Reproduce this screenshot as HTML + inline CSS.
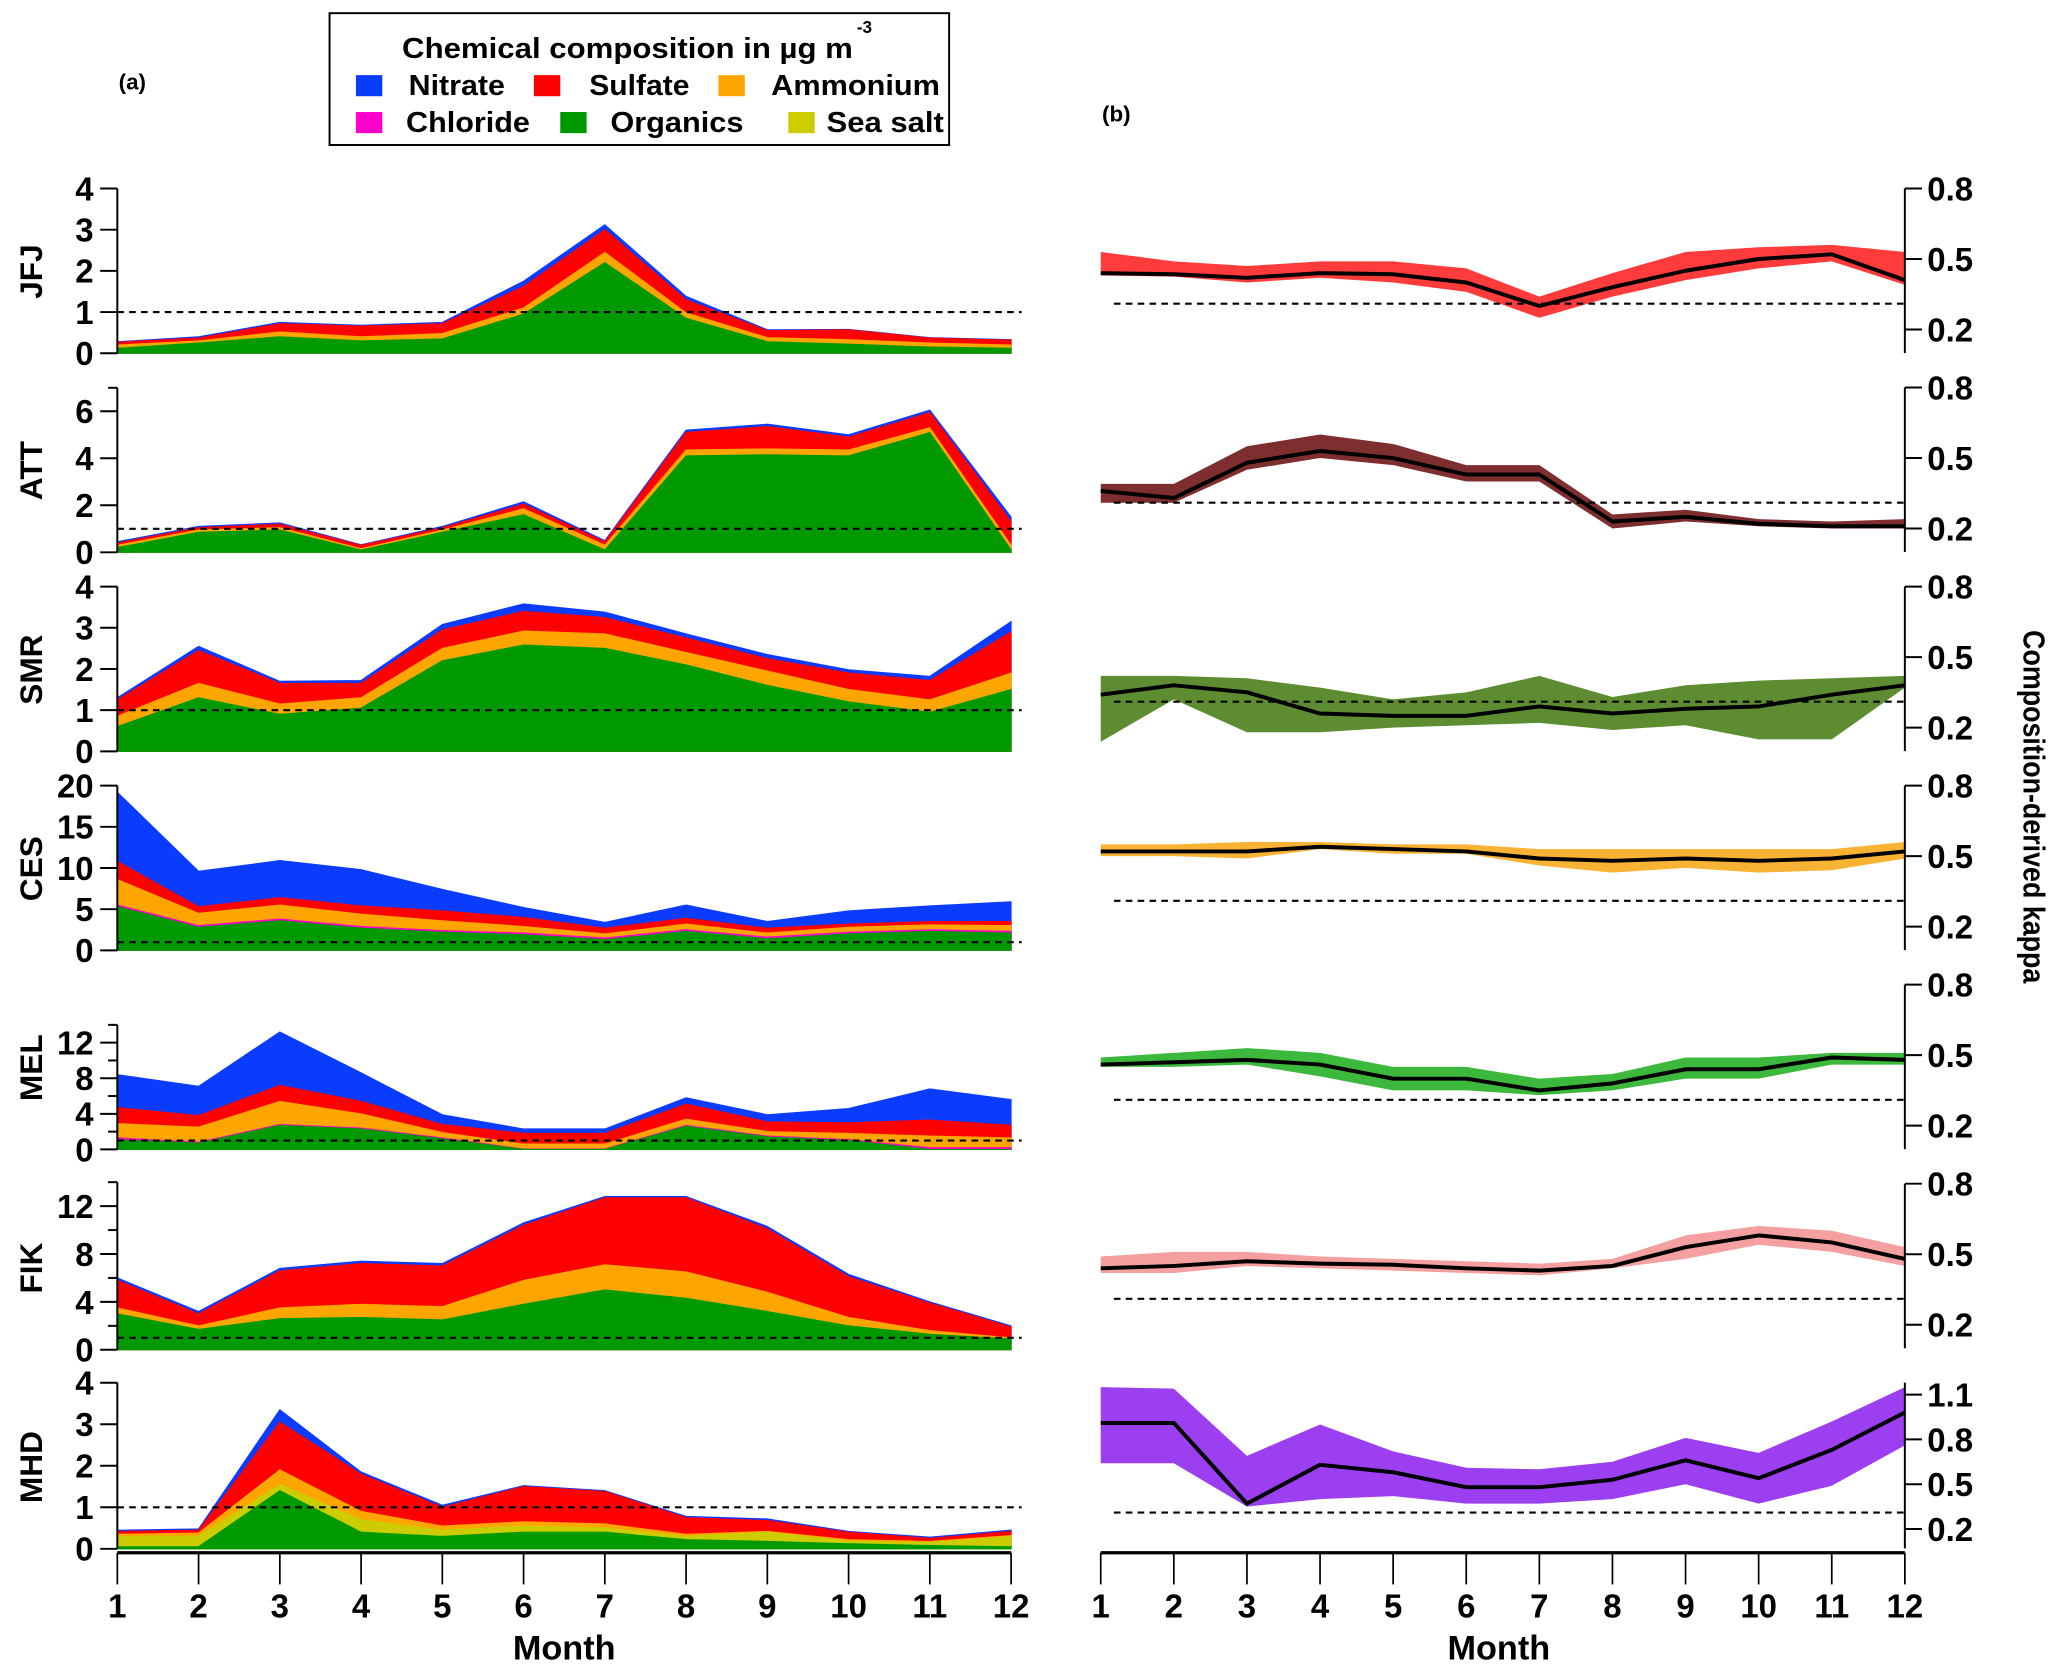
<!DOCTYPE html>
<html><head><meta charset="utf-8"><style>
html,body{margin:0;padding:0;background:#fff}
svg{display:block}
text{font-family:"Liberation Sans Narrow","Liberation Sans",sans-serif;font-weight:bold;fill:#000}
</style></head><body>
<svg id="chart" width="2067" height="1678" viewBox="0 0 1568 1273" preserveAspectRatio="none" xmlns="http://www.w3.org/2000/svg">
<g id="legend">
<rect x="250" y="10" width="470" height="100" fill="#fff" stroke="#000" stroke-width="1.5"/>
<text x="305" y="44" font-size="22" textLength="342" lengthAdjust="spacingAndGlyphs" style="font-family:'Liberation Sans',sans-serif">Chemical composition in µg m</text>
<text x="650" y="25" font-size="13" style="font-family:'Liberation Sans',sans-serif">-3</text>
<rect x="270" y="57" width="20" height="16" fill="#0a3cff"/><text x="310" y="72" font-size="22" textLength="73" lengthAdjust="spacingAndGlyphs" style="font-family:'Liberation Sans',sans-serif">Nitrate</text>
<rect x="405" y="57" width="20" height="16" fill="#ff0000"/><text x="447" y="72" font-size="22" textLength="76" lengthAdjust="spacingAndGlyphs" style="font-family:'Liberation Sans',sans-serif">Sulfate</text>
<rect x="545" y="57" width="20" height="16" fill="#ffa500"/><text x="585" y="72" font-size="22" textLength="128" lengthAdjust="spacingAndGlyphs" style="font-family:'Liberation Sans',sans-serif">Ammonium</text>
<rect x="270" y="85" width="20" height="16" fill="#ff00cc"/><text x="308" y="100" font-size="22" textLength="94" lengthAdjust="spacingAndGlyphs" style="font-family:'Liberation Sans',sans-serif">Chloride</text>
<rect x="425" y="85" width="20" height="16" fill="#009900"/><text x="463" y="100" font-size="22" textLength="101" lengthAdjust="spacingAndGlyphs" style="font-family:'Liberation Sans',sans-serif">Organics</text>
<rect x="598" y="85" width="20" height="16" fill="#cccc00"/><text x="627" y="100" font-size="22" textLength="89" lengthAdjust="spacingAndGlyphs" style="font-family:'Liberation Sans',sans-serif">Sea salt</text>
</g>
<text x="90" y="68" font-size="17">(a)</text>
<text x="836" y="92" font-size="17">(b)</text>
<text transform="translate(1535,612) rotate(90)" text-anchor="middle" font-size="23" textLength="268" lengthAdjust="spacingAndGlyphs" style="font-family:'Liberation Sans',sans-serif">Composition-derived kappa</text>
<text x="428" y="1259" text-anchor="middle" font-size="26" style="font-family:'Liberation Sans',sans-serif">Month</text>
<text x="1137" y="1259" text-anchor="middle" font-size="26" style="font-family:'Liberation Sans',sans-serif">Month</text>
</svg>
<script>
const months=[1,2,3,4,5,6,7,8,9,10,11,12];
const stations=["JFJ","ATT","SMR","CES","MEL","FIK","MHD"];
// stacked layer tops (cumulative, µg m-3): organics, chloride, sea salt, ammonium, sulfate, nitrate
const jfjOrg=[0.12,0.25,0.4,0.3,0.35,0.95,2.2,0.85,0.28,0.22,0.15,0.12];
const jfjAmm=[0.2,0.3,0.52,0.4,0.48,1.1,2.45,0.98,0.38,0.33,0.25,0.2];
const jfjSul=[0.27,0.37,0.72,0.66,0.72,1.62,3.0,1.3,0.55,0.57,0.37,0.32];
const jfjNit=[0.28,0.4,0.75,0.68,0.75,1.75,3.12,1.38,0.57,0.58,0.38,0.33];
const attOrg=[0.2,0.85,0.95,0.1,0.85,1.6,0.1,4.1,4.15,4.1,5.1,0.1];
const attAmm=[0.3,0.95,1.05,0.15,0.95,1.85,0.3,4.35,4.4,4.35,5.3,0.3];
const attSul=[0.4,1.05,1.2,0.3,1.05,2.05,0.45,5.1,5.35,4.9,5.95,1.3];
const attNit=[0.45,1.1,1.25,0.32,1.1,2.15,0.5,5.2,5.45,5.0,6.05,1.5];
const smrOrg=[0.6,1.3,0.9,1.05,2.2,2.58,2.5,2.1,1.6,1.2,0.95,1.5];
const smrAmm=[0.85,1.65,1.15,1.3,2.5,2.92,2.85,2.4,1.95,1.5,1.25,1.9];
const smrSul=[1.25,2.45,1.65,1.65,2.95,3.4,3.25,2.75,2.25,1.9,1.72,2.9];
const smrNit=[1.3,2.55,1.7,1.72,3.08,3.58,3.38,2.85,2.35,1.98,1.82,3.15];
const cesOrg=[5.3,2.8,3.6,2.7,2.2,1.9,1.3,2.3,1.4,2.0,2.3,2.1];
const cesChl=[5.5,3.0,3.8,2.9,2.4,2.1,1.5,2.5,1.6,2.2,2.5,2.3];
const cesAmm=[8.6,4.5,5.5,4.4,3.6,2.9,2.0,3.2,2.1,2.8,3.1,3.0];
const cesSul=[10.8,5.3,6.4,5.4,4.8,4.0,2.7,3.9,2.7,3.2,3.5,3.5];
const cesNit=[19.2,9.6,10.9,9.8,7.4,5.2,3.4,5.5,3.5,4.8,5.4,5.9];
const melOrg=[1.1,0.7,2.7,2.3,1.2,0,0,2.6,1.4,1.0,0,0];
const melChl=[1.3,0.8,2.8,2.4,1.3,0.05,0.05,2.7,1.5,1.1,0.2,0.2];
const melAmm=[2.9,2.5,5.4,4.0,1.9,0.6,0.6,3.4,2.0,1.8,1.5,1.3];
const melSul=[4.7,3.8,7.2,5.4,2.8,1.8,1.8,5.1,3.1,3.0,3.3,2.7];
const melNit=[8.4,7.1,13.2,8.6,3.9,2.3,2.3,5.8,3.9,4.6,6.8,5.6];
const fikOrg=[3.0,1.7,2.6,2.7,2.5,3.8,5.0,4.3,3.2,2.0,1.3,0.9];
const fikAmm=[3.5,2.0,3.5,3.8,3.6,5.8,7.1,6.5,4.8,2.7,1.6,1.0];
const fikSul=[5.8,3.0,6.6,7.2,7.0,10.4,12.7,12.7,10.1,6.1,3.9,1.9];
const fikNit=[6.0,3.2,6.8,7.4,7.2,10.6,12.8,12.8,10.3,6.3,4.0,2.0];
const mhdOrg=[0.05,0.05,1.4,0.4,0.3,0.4,0.4,0.22,0.18,0.12,0.08,0.05];
const mhdSea=[0.3,0.3,1.55,0.7,0.45,0.55,0.5,0.3,0.4,0.18,0.15,0.3];
const mhdAmm=[0.35,0.38,1.9,0.9,0.55,0.65,0.6,0.35,0.42,0.22,0.18,0.32];
const mhdSul=[0.42,0.45,3.05,1.8,1.0,1.5,1.38,0.75,0.68,0.4,0.25,0.42];
const mhdNit=[0.45,0.48,3.35,1.85,1.05,1.52,1.4,0.78,0.72,0.42,0.28,0.45];
// kappa mean / low / high
const jfjK=[0.44,0.435,0.42,0.44,0.435,0.40,0.30,0.38,0.45,0.50,0.52,0.41];
const jfjKhi=[0.53,0.49,0.47,0.49,0.49,0.46,0.34,0.44,0.53,0.55,0.56,0.53];
const jfjKlo=[0.43,0.425,0.40,0.42,0.40,0.36,0.25,0.34,0.41,0.46,0.49,0.39];
const attK=[0.36,0.33,0.48,0.53,0.50,0.43,0.43,0.23,0.25,0.22,0.21,0.21];
const attKhi=[0.39,0.39,0.55,0.60,0.56,0.47,0.47,0.26,0.28,0.24,0.23,0.24];
const attKlo=[0.31,0.31,0.45,0.50,0.47,0.40,0.40,0.20,0.23,0.21,0.20,0.20];
const smrK=[0.34,0.38,0.35,0.26,0.25,0.25,0.29,0.26,0.28,0.29,0.34,0.38];
const smrKhi=[0.42,0.42,0.41,0.37,0.32,0.35,0.42,0.33,0.38,0.40,0.41,0.42];
const smrKlo=[0.14,0.32,0.18,0.18,0.20,0.21,0.22,0.19,0.21,0.15,0.15,0.37];
const cesK=[0.52,0.52,0.52,0.54,0.53,0.52,0.49,0.48,0.49,0.48,0.49,0.52];
const cesKhi=[0.55,0.55,0.56,0.56,0.55,0.55,0.53,0.53,0.53,0.53,0.53,0.56];
const cesKlo=[0.50,0.50,0.49,0.53,0.51,0.51,0.46,0.43,0.45,0.43,0.44,0.49];
const melK=[0.46,0.47,0.48,0.46,0.40,0.40,0.35,0.38,0.44,0.44,0.49,0.48];
const melKhi=[0.49,0.51,0.53,0.51,0.45,0.45,0.40,0.42,0.49,0.49,0.51,0.51];
const melKlo=[0.45,0.45,0.46,0.41,0.35,0.35,0.33,0.35,0.40,0.40,0.46,0.46];
const fikK=[0.44,0.45,0.47,0.46,0.455,0.44,0.43,0.45,0.53,0.58,0.55,0.48];
const fikKhi=[0.49,0.51,0.51,0.49,0.48,0.47,0.46,0.48,0.58,0.62,0.60,0.53];
const fikKlo=[0.42,0.42,0.45,0.44,0.43,0.42,0.41,0.44,0.48,0.54,0.51,0.45];
const mhdK=[0.91,0.91,0.37,0.63,0.58,0.48,0.48,0.53,0.66,0.54,0.73,0.98];
const mhdKhi=[1.15,1.14,0.69,0.90,0.72,0.61,0.60,0.65,0.81,0.71,0.92,1.15];
const mhdKlo=[0.64,0.64,0.35,0.40,0.42,0.37,0.37,0.40,0.50,0.37,0.49,0.76];
const leftTicks=[[0,1,2,3,4],[0,2,4,6],[0,1,2,3,4],[0,5,10,15,20],[0,4,8,12],[0,4,8,12],[0,1,2,3,4]];
const kappaTicks=[0.2,0.5,0.8];
const mhdKappaTicks=[0.2,0.5,0.8,1.1];

const svg=document.getElementById('chart');
const NS='http://www.w3.org/2000/svg';
function mk(tag,attrs,parent){const e=document.createElementNS(NS,tag);for(const k in attrs)e.setAttribute(k,attrs[k]);(parent||svg).appendChild(e);return e;}
const xL=m=>89+(m-1)*(678/11);
const xR=m=>835+(m-1)*(610/11);
const zeros=[268,419,570,721,872,1024,1175];
const unit=[31.25,17.83,31.25,6.25,6.75,9.083,31.5];
const axMax=[4,7,4,20,14,14,4];
const stacks=[
 [[jfjOrg,'#009900'],[jfjAmm,'#ffa500'],[jfjSul,'#ff0000'],[jfjNit,'#0a3cff']],
 [[attOrg,'#009900'],[attAmm,'#ffa500'],[attSul,'#ff0000'],[attNit,'#0a3cff']],
 [[smrOrg,'#009900'],[smrAmm,'#ffa500'],[smrSul,'#ff0000'],[smrNit,'#0a3cff']],
 [[cesOrg,'#009900'],[cesChl,'#ff00cc'],[cesAmm,'#ffa500'],[cesSul,'#ff0000'],[cesNit,'#0a3cff']],
 [[melOrg,'#009900'],[melChl,'#ff00cc'],[melAmm,'#ffa500'],[melSul,'#ff0000'],[melNit,'#0a3cff']],
 [[fikOrg,'#009900'],[fikAmm,'#ffa500'],[fikSul,'#ff0000'],[fikNit,'#0a3cff']],
 [[mhdOrg,'#009900'],[mhdSea,'#cccc00'],[mhdAmm,'#ffa500'],[mhdSul,'#ff0000'],[mhdNit,'#0a3cff']]
];
const layerNames={'#009900':'organics','#ff00cc':'chloride','#cccc00':'sea-salt','#ffa500':'ammonium','#ff0000':'sulfate','#0a3cff':'nitrate'};
const kap=[[jfjK,jfjKlo,jfjKhi,'#ff3b3b'],[attK,attKlo,attKhi,'#7e2e2e'],[smrK,smrKlo,smrKhi,'#5e8c31'],[cesK,cesKlo,cesKhi,'#f8b335'],[melK,melKlo,melKhi,'#3cb83c'],[fikK,fikKlo,fikKhi,'#f4a0a0'],[mhdK,mhdKlo,mhdKhi,'#9b3ff0']];
const kTops=[143,294,445,596,747,898];

stations.forEach((st,i)=>{
  const z=zeros[i],u=unit[i];
  const y=v=>z-v*u;
  const g=mk('g',{});
  
  
  const layers=stacks[i];
  for(let L=layers.length-1;L>=0;L--){
    const arr=layers[L][0];
    let d='M'+xL(1)+','+z;
    months.forEach((m,j)=>{d+=' L'+xL(m)+','+y(arr[j]);});
    d+=' L'+xL(12)+','+z+' Z';
    const p=mk('path',{d:d,fill:layers[L][1],stroke:layers[L][1],'stroke-width':0.8},g);
    
    
  }
  const dl=mk('line',{x1:89,x2:775,y1:y(1),y2:y(1),stroke:'#000','stroke-width':1.6,'stroke-dasharray':'5,4'},g);
  
  
  mk('line',{x1:89,x2:89,y1:y(axMax[i]),y2:z,stroke:'#000','stroke-width':1.5},g);
  if(i==4||i==5){[2,6,10,14].forEach(t=>mk('line',{x1:82,x2:89,y1:y(t),y2:y(t),stroke:'#000','stroke-width':1.5},g));}
  if(i==1){mk('line',{x1:82,x2:89,y1:y(7),y2:y(7),stroke:'#000','stroke-width':1.5},g);}
  leftTicks[i].forEach(t=>{
    mk('line',{x1:76,x2:89,y1:y(t),y2:y(t),stroke:'#000','stroke-width':1.5},g);
    const tx=mk('text',{x:71,y:y(t)+9,'text-anchor':'end','font-size':25},g);
    tx.textContent=t;
    
    
  });
  const sl=mk('text',{transform:'translate(32,'+(z-62)+') rotate(-90)','text-anchor':'middle','font-size':24,style:"font-family:'Liberation Sans',sans-serif"},g);
  sl.textContent=st;
  
  

  const [mean,lo,hi,col]=kap[i];
  let ky,kmin,kmax,ticks;
  if(i<6){const t0=kTops[i];ky=v=>t0+(0.8-v)*178.3;kmin=0.1;kmax=0.8;ticks=kappaTicks;}
  else{ky=v=>1058+(1.1-v)*113.3;kmin=0.07;kmax=1.18;ticks=mhdKappaTicks;}
  const kg=mk('g',{});
  
  
  let d='M'+xR(1)+','+ky(hi[0]);
  months.forEach((m,j)=>{d+=' L'+xR(m)+','+ky(hi[j]);});
  for(let j=11;j>=0;j--)d+=' L'+xR(months[j])+','+ky(lo[j]);
  d+=' Z';
  const band=mk('path',{d:d,fill:col},kg);
  
  
  const kd=0.31;
  const kl=mk('line',{x1:845,x2:1445,y1:ky(kd),y2:ky(kd),stroke:'#000','stroke-width':1.6,'stroke-dasharray':'5,4'},kg);
  
  
  const ln=mk('polyline',{points:months.map((m,j)=>xR(m)+','+ky(mean[j])).join(' '),fill:'none',stroke:'#000','stroke-width':3,'stroke-linejoin':'round'},kg);
  
  
  mk('line',{x1:1445,x2:1445,y1:ky(kmax),y2:ky(kmin),stroke:'#000','stroke-width':1.5},kg);
  ticks.forEach(t=>{
    mk('line',{x1:1445,x2:1458,y1:ky(t),y2:ky(t),stroke:'#000','stroke-width':1.5},kg);
    const tx=mk('text',{x:1462,y:ky(t)+9,'font-size':25},kg);
    tx.textContent=t.toFixed(1);
    
    
  });
});
[[xL,89,767,'left'],[xR,835,1445,'right']].forEach(([fx,a,b,n])=>{
  const g=mk('g',{});
  
  
  mk('line',{x1:a,x2:b,y1:1178,y2:1178,stroke:'#000','stroke-width':2.5},g);
  months.forEach(m=>{
    mk('line',{x1:fx(m),x2:fx(m),y1:1178,y2:1202,stroke:'#000','stroke-width':1.3},g);
    const t=mk('text',{x:fx(m),y:1227,'text-anchor':'middle','font-size':25},g);
    t.textContent=m;
    
    
  });
});
</script>
</body></html>
